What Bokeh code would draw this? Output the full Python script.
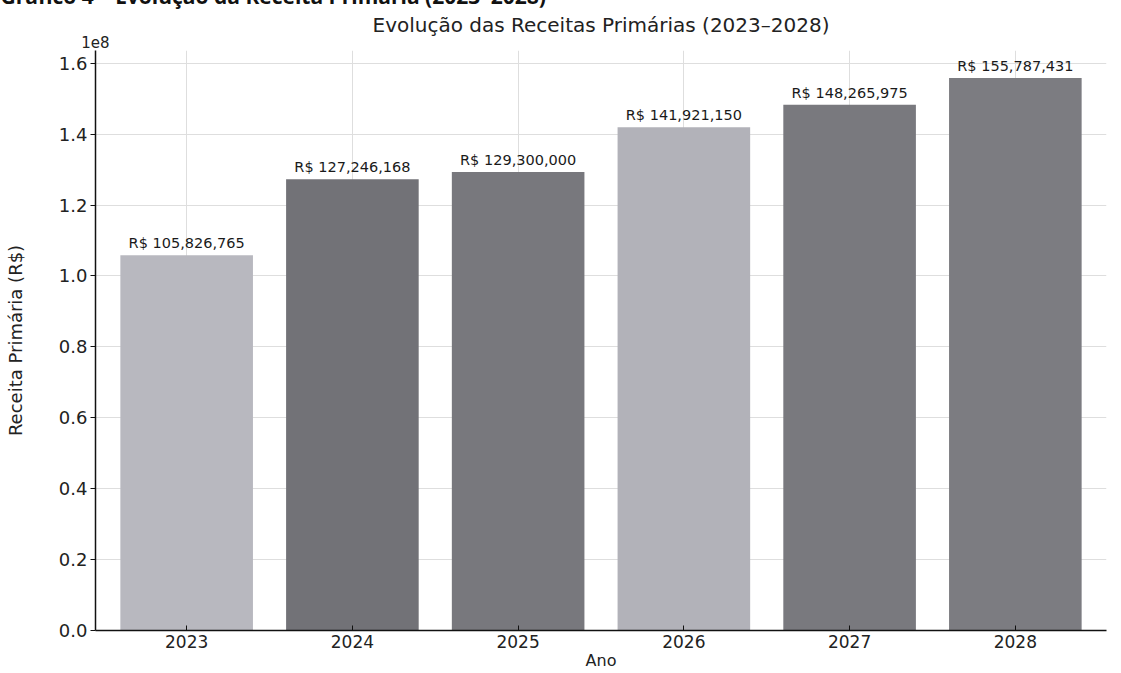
from bokeh.plotting import figure
from bokeh.models import ColumnDataSource, Range1d, FixedTicker, LabelSet, LinearAxis
from bokeh.core.properties import value
from bokeh.embed import file_html
from bokeh.resources import INLINE

years = [2023, 2024, 2025, 2026, 2027, 2028]
receitas = [105826765, 127246168, 129300000, 141921150, 148265975, 155787431]
y_ticks = [0, 20000000, 40000000, 60000000, 80000000, 100000000, 120000000, 140000000, 160000000]
y_tick_labels = ["0.0", "0.2", "0.4", "0.6", "0.8", "1.0", "1.2", "1.4", "1.6"]
bar_colors = ["#b8b8bf", "#727277", "#78787d", "#b2b2b9", "#79797e", "#7c7c81"]

labels = ["R$ {:,}".format(v) for v in receitas]
src = ColumnDataSource(dict(x=years, top=receitas, color=bar_colors, label=labels))

SHIFT = 21  # canvas is shifted up so the page header is cut at the window top
W, H = 1113, 673 + SHIFT
p = figure(width=W, height=H, output_backend="svg", toolbar_location=None,
           x_range=Range1d(years[0] - 0.55, years[-1] + 0.55),
           y_range=Range1d(0, max(receitas) * 1.05),
           x_axis_location=None, y_axis_location=None,
           min_border_left=95, min_border_right=7, min_border_top=0,
           min_border_bottom=43)
p.styles = {"margin-top": "-%dpx" % SHIFT}
p.outline_line_color = None
p.background_fill_color = "white"

# bare axis above the frame: tick label = y offset text "1e8", axis label = chart title
x0 = p.x_range.start
top_axis = LinearAxis(ticker=FixedTicker(ticks=[x0]), major_label_overrides={x0: "1e8"},
                      axis_line_color=None, major_tick_line_color=None,
                      minor_tick_line_color=None, major_tick_out=0, major_tick_in=0,
                      major_label_standoff=3,
                      major_label_text_font="DejaVu Sans", major_label_text_font_size="15px",
                      major_label_text_color="#222222", major_label_text_align="right",
                      axis_label="Evolução das Receitas Primárias (2023–2028)",
                      axis_label_standoff=-4, axis_label_text_font="DejaVu Sans",
                      axis_label_text_font_style="normal", axis_label_text_font_size="20px",
                      axis_label_text_color="#222222")
p.add_layout(top_axis, "above")

# page header (outermost panel)
p.title.text = "Gráfico 4 – Evolução da Receita Primária (2023–2028)"
p.title.align = "left"
p.title.offset = -95
p.title.text_font = "Open Sans"
p.title.text_font_style = "bold"
p.title.text_font_size = "21px"
p.title.text_color = "#111111"
p.title.standoff = 0

p.vbar(x="x", top="top", width=0.8, color="color", source=src, line_color=None)

p.add_layout(LabelSet(x="x", y="top", text="label", source=src, text_align="center",
                      text_baseline="bottom", y_offset=4, text_font_size=value("14.5px"),
                      text_font=value("DejaVu Sans"), text_color="#1a1a1a"))

# main axes
xa = LinearAxis(ticker=FixedTicker(ticks=years))
ya = LinearAxis(ticker=FixedTicker(ticks=y_ticks),
                major_label_overrides={t: l for t, l in zip(y_ticks, y_tick_labels)})
p.add_layout(xa, "below")
p.add_layout(ya, "left")
for ax in (xa, ya):
    ax.axis_line_color = "#111111"
    ax.axis_line_width = 1.5
    ax.major_tick_out = 5
    ax.major_tick_in = 0
    ax.minor_tick_out = 0
    ax.minor_tick_in = 0
    ax.major_tick_line_color = "#111111"
    ax.major_label_text_font = "DejaVu Sans"
    ax.major_label_text_color = "#222222"
xa.major_tick_out = 0
xa.major_tick_in = 5
xa.major_label_text_font_size = "17px"
ya.major_label_text_font_size = "18px"
xa.major_label_standoff = 4
ya.major_label_standoff = 3
xa.axis_label = "Ano"
xa.axis_label_text_font = "DejaVu Sans"
xa.axis_label_text_font_style = "normal"
xa.axis_label_text_font_size = "16px"
xa.axis_label_text_color = "#222222"
xa.axis_label_standoff = 0
ya.axis_label = "Receita Primária (R$)"
ya.axis_label_text_font = "DejaVu Sans"
ya.axis_label_text_font_style = "normal"
ya.axis_label_text_font_size = "18px"
ya.axis_label_text_color = "#222222"
ya.axis_label_standoff = 30

p.xgrid.ticker = FixedTicker(ticks=years)
p.ygrid.ticker = FixedTicker(ticks=y_ticks)
p.grid.grid_line_color = "#dedede"
p.grid.grid_line_width = 1

open("out.html", "w").write(file_html(p, INLINE))
